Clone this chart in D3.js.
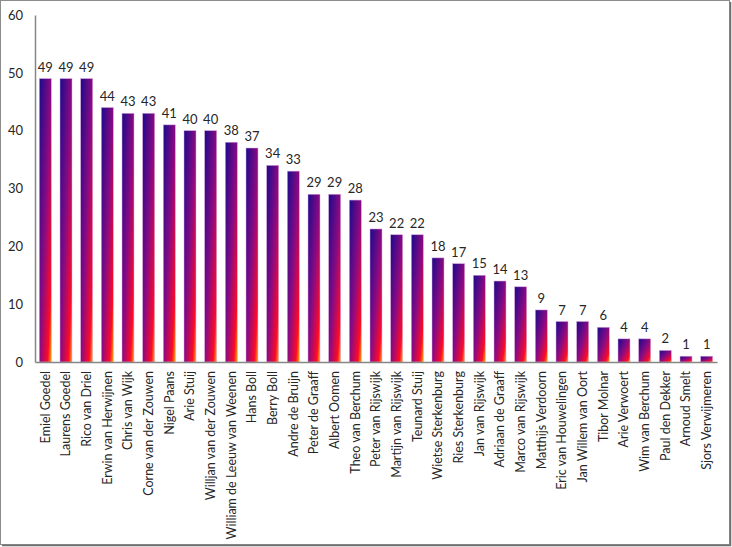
<!DOCTYPE html>
<html>
<head>
<meta charset="utf-8">
<script src="https://cdn.jsdelivr.net/npm/d3@7"></script>
<style>
  body { margin: 0; background: #fff; }
  text { font-family: Lato, "Open Sans", sans-serif; fill: #262626; }
</style>
</head>
<body>
<script>
// player names and their scores
var names = ["Emiel Goedel", "Laurens Goedel", "Rico van Driel", "Erwin van Herwijnen",
  "Chris van Wijk", "Corne van der Zouwen", "Nigel Paans", "Arie Stuij",
  "Willjan van der Zouwen", "William de Leeuw van Weenen", "Hans Boll", "Berry Boll",
  "Andre de Bruijn", "Peter de Graaff", "Albert Oomen", "Theo van Berchum",
  "Peter van Rijswijk", "Martijn van Rijswijk", "Teunard Stuij", "Wietse Sterkenburg",
  "Ries Sterkenburg", "Jan van Rijswijk", "Adriaan de Graaff", "Marco van Rijswijk",
  "Matthijs Verdoorn", "Eric van Houwelingen", "Jan Willem van Oort", "Tibor Molnar",
  "Arie Verwoert", "Wim van Berchum", "Paul den Dekker", "Arnoud Smelt", "Sjors Verwijmeren"];
var scores = [49, 49, 49, 44, 43, 43, 41, 40, 40, 38, 37, 34, 33, 29, 29, 28,
  23, 22, 22, 18, 17, 15, 14, 13, 9, 7, 7, 6, 4, 4, 2, 1, 1];
var yTicks = [0, 10, 20, 30, 40, 50, 60];

var W = 732, H = 547;
var mLeft = 35, mRight = 717, mTop = 15, mBottom = 362;

var svg = d3.select("body").append("svg")
  .attr("width", W)
  .attr("height", H);

// outer frame
svg.append("rect")
  .attr("x", 0.5).attr("y", 0.5)
  .attr("width", W - 3).attr("height", H - 3)
  .style("fill", "none")
  .style("stroke", "#8c8c8c");
svg.append("path")
  .attr("d", "M" + (W - 1.5) + ",2 V" + (H - 1.5) + " H2")
  .style("fill", "none")
  .style("stroke", "#6e6e6e")
  .style("stroke-width", 1.5);

var grad = svg.append("defs").append("linearGradient")
  .attr("id", "barGrad")
  .attr("x1", 0).attr("y1", 0)
  .attr("x2", 1).attr("y2", 1);
grad.selectAll("stop")
  .data([[0, "#1a0a8c"], [0.5, "#8a0a82"], [0.85, "#ff0a28"], [1, "#ffb000"]])
  .enter().append("stop")
  .attr("offset", function(d) { return d[0]; })
  .attr("stop-color", function(d) { return d[1]; });

var x = d3.scaleBand()
  .domain(names)
  .range([mLeft, mRight])
  .paddingInner(0.42)
  .paddingOuter(0.21);

var y = d3.scaleLinear()
  .domain([0, 60])
  .range([mBottom, mTop]);

var data = names.map(function(n, i) { return {name: n, value: scores[i]}; });

svg.selectAll(".bar")
  .data(data)
  .enter()
  .append("rect")
  .attr("class", "bar")
  .attr("x", function(d) { return x(d.name); })
  .attr("y", function(d) { return y(d.value); })
  .attr("width", x.bandwidth())
  .attr("height", function(d) { return y(0) - y(d.value); })
  .style("fill", "url(#barGrad)")
  .style("stroke", "#d9a0d9")
  .style("stroke-width", 0.5);

// value labels
svg.selectAll(".val")
  .data(data)
  .enter()
  .append("text")
  .attr("class", "val")
  .attr("x", function(d) { return x(d.name) + x.bandwidth() / 2; })
  .attr("y", function(d) { return y(d.value) - 7; })
  .attr("text-anchor", "middle")
  .style("font-size", "13px")
  .text(function(d) { return d.value; });

// y axis
var yAxis = svg.append("g")
  .attr("transform", "translate(" + mLeft + ",0)")
  .call(d3.axisLeft(y).tickValues(yTicks).tickSize(0).tickPadding(12));
yAxis.select(".domain").style("stroke", "#868686").style("stroke-width", 1.5);
yAxis.selectAll("text").style("font-size", "13px").style("fill", "#262626")
  .style("font-family", "Lato, 'Open Sans', sans-serif");

// x axis
var xAxis = svg.append("g")
  .attr("transform", "translate(0," + mBottom + ")")
  .call(d3.axisBottom(x).tickSize(0).tickSizeOuter(0));
xAxis.select(".domain").style("stroke", "#868686").style("stroke-width", 1.5);
xAxis.selectAll("text")
  .attr("transform", "rotate(-90)")
  .attr("text-anchor", "end")
  .attr("x", -9)
  .attr("y", 0)
  .attr("dy", "0.35em")
  .style("font-size", "12.5px")
  .style("fill", "#262626")
  .style("font-family", "Lato, 'Open Sans', sans-serif");
</script>
</body>
</html>
